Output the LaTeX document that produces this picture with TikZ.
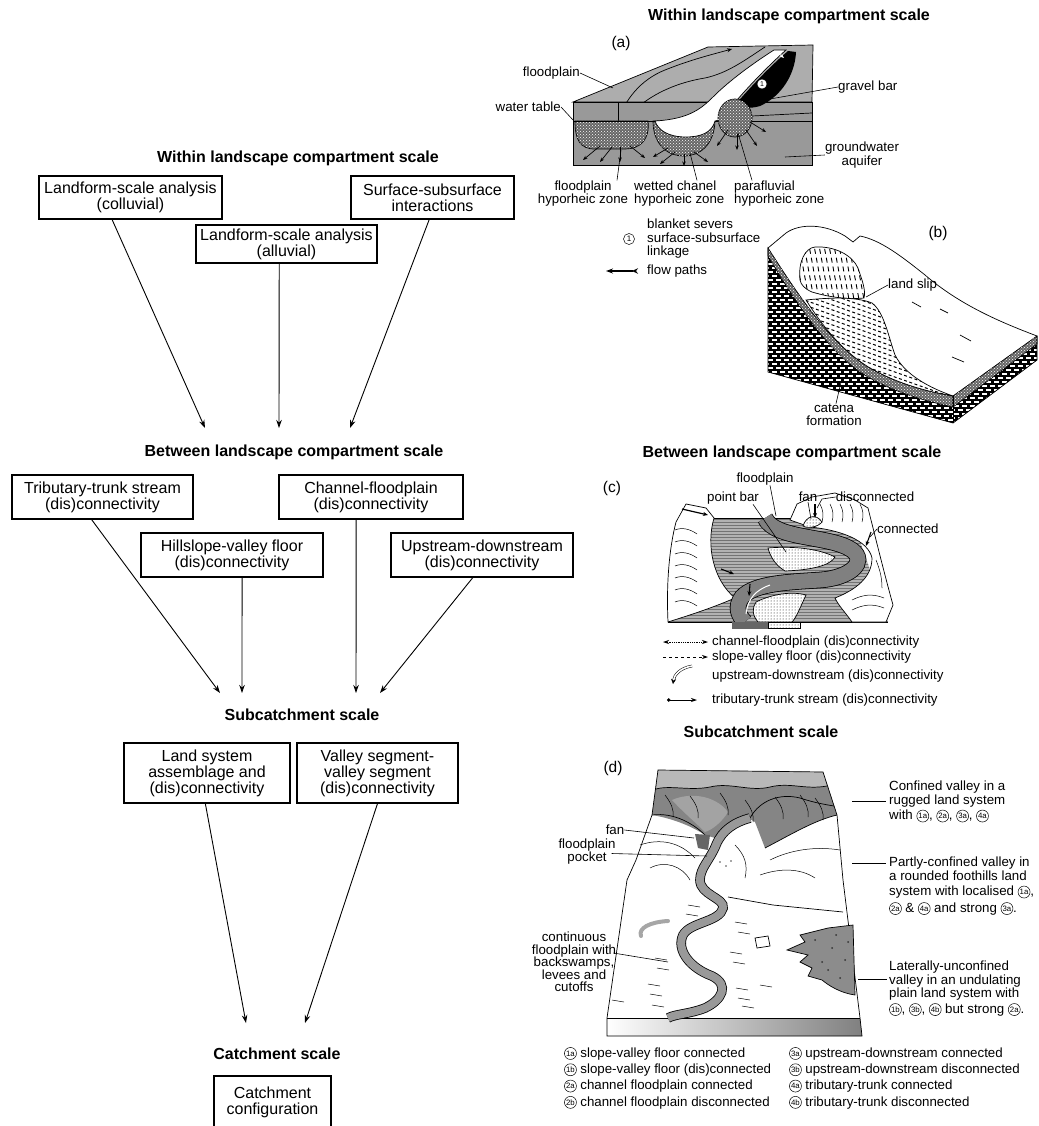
\documentclass[tikz,border=0pt]{standalone}
\usepackage{fontspec}
\setmainfont{Liberation Sans}
\usetikzlibrary{arrows.meta,patterns,calc}
\newcommand\circlab[1]{\raisebox{3.8pt}{\tikz[baseline=(cl.center)]{\node[circle,draw,line width=0.5pt,inner sep=0pt,minimum size=12pt,font=\fontsize{7.8}{7.8}\selectfont] (cl) {#1};}}}
\begin{document}
\begin{tikzpicture}[x=1pt,y=-1pt,
  box/.style={draw,line width=1.1pt,align=center,inner sep=0pt,font=\fontsize{16}{16}\selectfont},
  ttl/.style={font=\bfseries\fontsize{16}{16}\selectfont,inner sep=0pt},
  lbl/.style={font=\fontsize{13.3}{13.5}\selectfont,inner sep=0pt},
  plbl/.style={font=\fontsize{15.5}{16}\selectfont,inner sep=0pt},
  arr/.style={-{Stealth[length=8pt,width=5.5pt]},line width=0.9pt},
  lead/.style={line width=0.6pt},
  fa/.style={-{Stealth[length=4.5pt,width=3.5pt]},line width=0.7pt},
  ol/.style={line width=0.7pt},
  zone/.style={ol,fill=black!60,postaction={pattern=crosshatch dots,pattern color=white}},
  dotz/.style={ol,fill=white,postaction={pattern=dots}},
  thk/.style={line width=1.1pt,-{Stealth[length=5pt,width=4pt]}},
]
\useasboundingbox (0,0) rectangle (1038,1126);
\clip (0,0) rectangle (1038,1126);

%% ================= LEFT FLOW CHART =================
\node[ttl] (t1) at (298,158) {Within landscape compartment scale};
\node[box,minimum width=183pt,minimum height=43pt] (b1) at (130.5,197.5) {Landform-scale analysis\\(colluvial)};
\node[box,minimum width=163pt,minimum height=43pt] (b2) at (432.5,197.5) {Surface-subsurface\\interactions};
\node[box,minimum width=181pt,minimum height=38pt] (b3) at (286.5,244) {Landform-scale analysis\\(alluvial)};
\coordinate (e1) at (205,428);
\coordinate (e2) at (279,428);
\coordinate (e3) at (350,428);
\draw[arr] ($(b1.south west)!0.40!(b1.south east)$) -- (e1);
\draw[arr] ($(b3.south west)!0.46!(b3.south east)$) -- (e2);
\draw[arr] ($(b2.south west)!0.48!(b2.south east)$) -- (e3);

\node[ttl] (t2) at (294,452) {Between landscape compartment scale};
\node[box,minimum width=181pt,minimum height=44pt] (b4) at (102.5,497) {Tributary-trunk stream\\(dis)connectivity};
\node[box,minimum width=184pt,minimum height=44pt] (b5) at (371,497) {Channel-floodplain\\(dis)connectivity};
\node[box,minimum width=182pt,minimum height=44pt] (b6) at (232,555) {Hillslope-valley floor\\(dis)connectivity};
\node[box,minimum width=182pt,minimum height=44pt] (b7) at (482,555) {Upstream-downstream\\(dis)connectivity};
\coordinate (e4) at (220,693);
\coordinate (e5) at (242,693);
\coordinate (e6) at (356,693);
\coordinate (e7) at (380,693);
\draw[arr] ($(b4.south west)!0.44!(b4.south east)$) -- (e4);
\draw[arr] ($(b6.south west)!0.555!(b6.south east)$) -- (e5);
\draw[arr] ($(b5.south west)!0.42!(b5.south east)$) -- (e6);
\draw[arr] ($(b7.south west)!0.45!(b7.south east)$) -- (e7);

\node[ttl] (t3) at (302,715) {Subcatchment scale};
\node[box,minimum width=166pt,minimum height=60pt] (b8) at (207,773) {Land system\\assemblage and\\(dis)connectivity};
\node[box,minimum width=161pt,minimum height=60pt] (b9) at (377.5,773) {Valley segment-\\valley segment\\(dis)connectivity};
\coordinate (e8) at (246,1023);
\coordinate (e9) at (305,1023);
\draw[arr] ($(b8.south west)!0.49!(b8.south east)$) -- (e8);
\draw[arr] ($(b9.south west)!0.50!(b9.south east)$) -- (e9);

\node[ttl] (t4) at (277,1054) {Catchment scale};
\node[box,minimum width=117pt,minimum height=52pt] (b10) at (272.5,1102) {Catchment\\configuration};

%% ================= RIGHT TITLES =================
\node[ttl] (rt1) at (789,16) {Within landscape compartment scale};
\node[ttl] (rt2) at (792,453) {Between landscape compartment scale};
\node[ttl] (rt3) at (761,732) {Subcatchment scale};

%% ================= PANEL (a) =================
\node[plbl] (la) at (621,43) {(a)};
\draw[ol,fill=black!32] (573,102) -- (708,47) -- (813,45) -- (812,102) -- cycle;
\draw[ol,-{Stealth[length=5pt,width=4pt]}] (618,121) .. controls (625,100) and (640,80) .. (665,70) .. controls (690,60) and (710,55) .. (732,49);
\draw[ol] (637,108) .. controls (655,92) and (680,82) .. (705,78) .. controls (728,73) and (745,60) .. (765,47);
\draw[ol,fill=black!40] (573,102) rectangle (812,165);
\draw[ol] (618,121) -- (618,102);
\draw[zone] (575,121) -- (648,121) .. controls (650,140) and (640,149) .. (625,149) -- (595,149) .. controls (580,149) and (575,140) .. (575,121) -- cycle;
\draw[zone] (653,121) -- (715,121) .. controls (714,145) and (700,156) .. (684,156) .. controls (665,156) and (653,142) .. (653,121) -- cycle;
\draw[ol] (573,121) -- (812,121);
\draw[ol] (752,116) -- (812,113);
\draw[ol,fill=white] (655,121) .. controls (690,119) and (702,108) .. (714,96) .. controls (730,80) and (755,62) .. (774,50) -- (786,50) .. controls (768,66) and (745,90) .. (732,106) .. controls (725,116) and (720,121) .. (715,121) .. controls (712,133) and (700,137) .. (686,137) .. controls (668,137) and (658,130) .. (655,121) -- cycle;
\fill (735,105) .. controls (747,91) and (767,69) .. (788,51) -- (796,52) .. controls (795,74) and (782,96) .. (760,106) .. controls (750,109) and (741,108) .. (735,105) -- cycle;
\draw[zone] (735,118) ellipse [x radius=17pt,y radius=19pt];
\node[circle,fill=white,draw,inner sep=0pt,minimum size=10pt,font=\fontsize{7}{7}\selectfont] (a1c) at (762,84) {1};
\draw[fa,white] (778,53) -- (784,58);
% flow path arrows
\draw[fa] (600,146) -- (583,160);
\draw[fa] (612,147) -- (600,162);
\draw[fa] (620,147) -- (620,162);
\draw[fa] (630,146) -- (645,158);
\draw[fa] (668,148) -- (653,157);
\draw[fa] (675,152) -- (660,164);
\draw[fa] (684,154) -- (684,166);
\draw[fa] (694,152) -- (708,162);
\draw[fa] (728,130) -- (717,146);
\draw[fa] (737,134) -- (737,150);
\draw[fa] (746,130) -- (757,146);
\draw[fa] (750,122) -- (766,132);
% labels
\node[lbl,anchor=east] (lfp) at (580,73) {floodplain};
\draw[lead] (lfp.east) -- (613,88);
\node[lbl,anchor=east] (lwt) at (561,107) {water table};
\draw[lead] (lwt.east) -- (573,120);
\node[lbl,anchor=west] (lgb) at (838,87) {gravel bar};
\draw[lead] (lgb.west) -- (753,102);
\node[lbl,align=center] (lgw) at (862,155) {groundwater\\aquifer};
\draw[lead] (lgw.west) -- (785,157);
\node[lbl,align=center] (lfz) at (583,193.5) {floodplain\\hyporheic zone};
\draw[lead] ($(lfz.north)+(34,0)$) -- (621,150);
\node[lbl,align=left,anchor=west] (lwz) at (634,193.5) {wetted chanel\\hyporheic zone};
\draw[lead] ($(lwz.north west)+(63,0)$) -- (690,153);
\node[lbl,align=left,anchor=west] (lpz) at (734,193.5) {parafluvial\\hyporheic zone};
\draw[lead] ($(lpz.north west)+(18,0)$) -- (738,133);
% legend (a)
\node[circle,draw,line width=0.5pt,inner sep=0pt,minimum size=11pt,font=\fontsize{8}{8}\selectfont] (lg1) at (629,239) {1};
\node[lbl,align=left,anchor=west] (lg1t) at (647,239) {blanket severs\\surface-subsurface\\linkage};
\coordinate (fp1) at (606,271);
\coordinate (fp2) at (638,271);
\draw[line width=1.2pt,{Stealth[length=7pt,width=5pt]}-{Stealth[length=6pt,width=5.5pt,reversed]}] (fp1) -- (fp2);
\node[lbl,anchor=west] (lfpt) at (647,271) {flow paths};

%% ================= PANEL (b) =================
\node[plbl] (lb) at (938,233) {(b)};
\begin{scope}
\clip (768,248) .. controls (795,290) and (830,345) .. (870,368) .. controls (900,385) and (930,392) .. (953,396) -- (953,423) -- (768,372) -- cycle;
\fill[black] (760,240) rectangle (960,430);
\foreach \i in {0,...,48} {\pgfmathsetmacro\ph{mod(\i,2)*4}\draw[white,line width=1.7pt,dash pattern=on 5pt off 3pt,dash phase=\ph pt] (760,240+4*\i) -- (960,240+4*\i);}
\end{scope}
\begin{scope}
\clip (953,396) -- (1037,336) -- (1037,360) -- (953,423) -- cycle;
\fill[black] (950,330) rectangle (1040,430);
\foreach \i in {0,...,25} {\pgfmathsetmacro\ph{mod(\i,2)*4}\draw[white,line width=1.7pt,dash pattern=on 5pt off 3pt,dash phase=\ph pt] (950,330+4*\i) -- (1040,330+4*\i);}
\end{scope}
\draw[zone] (768,248) .. controls (795,290) and (830,345) .. (870,368) .. controls (900,385) and (930,392) .. (953,396) -- (953,407) .. controls (930,402) and (898,394) .. (868,377) .. controls (828,354) and (793,298) .. (768,256) -- cycle;
\draw[zone] (953,396) -- (1037,336) -- (1037,344) -- (953,407) -- cycle;
\draw[ol] (768,248) -- (768,372) -- (953,423) -- (1037,360) -- (1037,336);
\draw[ol] (953,396) -- (953,423);
\draw[ol] (768,248) -- (786,233) .. controls (800,223) and (825,224) .. (845,236) -- (853,242) -- (860,236) .. controls (880,240) and (900,255) .. (925,275) .. controls (960,305) and (1000,322) .. (1037,336);
% land slip scar
\draw[ol,fill=white] (800,280) .. controls (798,262) and (805,248) .. (815,247) .. controls (835,246) and (852,255) .. (858,268) .. controls (862,280) and (866,290) .. (864,298) .. controls (845,300) and (825,296) .. (812,292) .. controls (805,289) and (801,285) .. (800,280) -- cycle;
\begin{scope}
\clip (800,280) .. controls (798,262) and (805,248) .. (815,247) .. controls (835,246) and (852,255) .. (858,268) .. controls (862,280) and (866,290) .. (864,298) .. controls (845,300) and (825,296) .. (812,292) .. controls (805,289) and (801,285) .. (800,280) -- cycle;
\foreach \i in {0,...,14} {\draw[line width=0.9pt,dash pattern=on 5pt off 4pt] (788+5*\i,240) -- (800+5*\i,305);}
\end{scope}
% deposit
\draw[ol,fill=white] (806,300) .. controls (820,322) and (840,350) .. (870,368) .. controls (900,385) and (930,392) .. (953,396) .. controls (930,388) and (905,375) .. (895,355) .. controls (888,335) and (884,312) .. (872,303) .. controls (855,296) and (825,298) .. (806,300) -- cycle;
\begin{scope}
\clip (806,300) .. controls (820,322) and (840,350) .. (870,368) .. controls (900,385) and (930,392) .. (953,396) .. controls (930,388) and (905,375) .. (895,355) .. controls (888,335) and (884,312) .. (872,303) .. controls (855,296) and (825,298) .. (806,300) -- cycle;
\foreach \i in {0,...,32} {\draw[line width=1pt,dash pattern=on 3pt off 2.5pt] (790,250+5*\i) -- (960,310+5*\i);}
\end{scope}
\draw[ol] (912,302) -- (921,307);
\draw[ol] (940,309) -- (948,313);
\draw[ol] (960,335) -- (971,341);
\draw[ol] (952,357) -- (964,362);
\node[lbl,anchor=west] (lls) at (888,285) {land slip};
\draw[lead] (lls.west) -- (866,297);
\node[lbl,align=center] (lcf) at (834,415) {catena\\formation};
\draw[lead] ($(lcf.north)+(2,0)$) -- (841,382);

%% ================= PANEL (c) =================
\node[plbl] (lc) at (612,488) {(c)};
\fill[black!30] (668,622) -- (700,518) -- (852,518) -- (888,622) -- cycle;
\fill[pattern=horizontal lines,pattern color=black!55] (668,622) -- (700,518) -- (852,518) -- (888,622) -- cycle;
\draw[ol] (700,518) -- (852,518);
\draw[ol] (668,622) -- (888,622);
% left hill
\draw[ol,fill=white] (668,622) .. controls (666,580) and (670,545) .. (676,522) -- (686,504) -- (706,508) -- (714,518) .. controls (706,545) and (713,580) .. (735,598) .. controls (712,608) and (690,615) .. (668,622) -- cycle;
\foreach \y in {530,542,...,602} {\draw[line width=0.5pt] (675,\y) .. controls (682,\y-3) and (690,\y-1) .. (697,\y+4);}
\draw[line width=1.2pt,-{Stealth[length=5pt,width=4pt]}] (682,509) -- (708,515);
% right hill
\draw[ol,fill=white] (790,520) -- (797,504) -- (812,497) -- (835,493) -- (855,500) -- (868,508) .. controls (876,540) and (886,580) .. (893,605) -- (886,622) -- (852,622) .. controls (845,612) and (838,605) .. (835,598) .. controls (855,590) and (872,578) .. (872,558) .. controls (868,540) and (840,530) .. (810,527) -- cycle;
\foreach \x in {820,830,...,860} {\draw[line width=0.5pt] (\x,504) .. controls (\x+3,510) and (\x+4,515) .. (\x+2,522);}
\foreach \y in {595,605} {\draw[line width=0.5pt] (852,\y+5) .. controls (862,\y) and (872,\y-2) .. (884,\y+3);}
\draw[line width=0.5pt] (876,560) .. controls (880,570) and (882,578) .. (882,588);
% river
\draw[line width=0.8pt,double=black!50,double distance=15pt] (765,518) .. controls (775,540) and (830,535) .. (852,550) .. controls (868,562) and (850,578) .. (820,580) .. controls (790,582) and (755,583) .. (742,597) .. controls (735,607) and (738,615) .. (745,622);
\draw[dotz] (768,548) .. controls (790,546) and (818,548) .. (835,557) .. controls (830,566) and (810,570) .. (785,571) .. controls (775,565) and (770,556) .. (768,548) -- cycle;
\draw[dotz] (756,602) .. controls (772,594) and (792,591) .. (806,595) .. controls (800,608) and (796,618) .. (792,622) -- (758,622) .. controls (752,615) and (752,608) .. (756,602) -- cycle;
\draw[dotz] (803,526) .. controls (806,516) and (816,513) .. (822,522) .. controls (818,527) and (808,529) .. (803,526) -- cycle;
\draw[thk] (815,504) -- (815,518);
\draw[thk] (871,532) -- (866,546);
\draw[thk] (721,569) -- (734,574);
\draw[thk] (750,584) -- (749,596);
\draw[white,line width=1pt] (746,614) .. controls (748,598) and (756,590) .. (770,585);
\fill[black!60] (732,622) rectangle (768,629);
\draw[dotz] (768,622) rectangle (800,628);
\node[lbl] (lcfp) at (765,479) {floodplain};
\draw[lead] ($(lcfp.south)+(5,0)$) -- (776,516);
\node[lbl] (lcpb) at (733,498) {point bar};
\draw[lead] ($(lcpb.south east)+(-6,0)$) -- (786,552);
\node[lbl] (lcfan) at (808,497) {fan};
\draw[lead] (lcfan.south) -- (811,519);
\node[lbl] (lcdc) at (875,497) {disconnected};
\draw[lead] (lcdc.west) -- (822,499) -- (817,508);
\node[lbl,anchor=west] (lccn) at (877,529) {connected};
\draw[lead] (lccn.west) -- (870,537);
% legend (c)
\coordinate (s1a) at (663,642); \coordinate (s1b) at (708,642);
\coordinate (s2a) at (663,657); \coordinate (s2b) at (708,657);
\coordinate (s3a) at (692,666); \coordinate (s3b) at (673,684);
\coordinate (s4a) at (667,700); \coordinate (s4b) at (697,700);
\draw[line width=0.8pt,densely dotted,{Stealth[length=6pt,width=4pt]}-{Stealth[length=6pt,width=4pt]}] (s1a) -- (s1b);
\draw[line width=0.8pt,dashed,-{Stealth[length=6pt,width=4pt]}] (s2a) -- (s2b);
\draw[line width=0.5pt,double,double distance=1.6pt,-{Stealth[length=5pt,width=5pt]}] (s3a) .. controls (680,668) and (674,675) .. (s3b);
\draw[line width=0.8pt,{Circle[length=3.5pt]}-{Stealth[length=6pt,width=4pt]}] (s4a) -- (s4b);
\node[lbl,anchor=west] (lc1) at (712,642) {channel-floodplain (dis)connectivity};
\node[lbl,anchor=west] (lc2) at (712,657) {slope-valley floor (dis)connectivity};
\node[lbl,anchor=west] (lc3) at (712,676) {upstream-downstream (dis)connectivity};
\node[lbl,anchor=west] (lc4) at (712,700) {tributary-trunk stream (dis)connectivity};

%% ================= PANEL (d) =================
\node[plbl] (ld) at (613,768) {(d)};
\shade[left color=white,right color=black!50] (607,1018) -- (860,1018) -- (862,1036) -- (607,1036) -- cycle;
\fill[black!48] (658,770) -- (823,772) -- (837,815) .. controls (815,820) and (790,835) .. (765,848) -- (755,822) -- (748,818) .. controls (735,822) and (725,830) .. (715,838) -- (705,835) .. controls (690,825) and (670,818) .. (652,815) -- cycle;
\fill[black!36] (672,800) .. controls (690,792) and (715,795) .. (728,812) .. controls (722,822) and (712,830) .. (705,832) .. controls (695,822) and (683,812) .. (672,800) -- cycle;
\fill[black!28] (658,770) -- (823,772) -- (827,786) .. controls (805,790) and (790,782) .. (770,787) .. controls (750,792) and (730,782) .. (710,787) .. controls (690,791) and (670,785) .. (656,789) -- cycle;
\draw[ol] (656,789) .. controls (670,785) and (690,791) .. (710,787) .. controls (730,782) and (750,792) .. (770,787) .. controls (790,782) and (805,790) .. (827,786);
\draw[ol] (750,818) .. controls (760,800) and (780,793) .. (800,798) .. controls (815,803) and (828,805) .. (834,806);
\foreach \x/\y in {665/795,690/796,720/793,745/800,775/797,800/795,815/798} {\draw[line width=0.5pt] (\x,\y) .. controls (\x+6,\y+8) and (\x+9,\y+14) .. (\x+8,\y+22);}
\draw[ol] (652,815) .. controls (675,812) and (695,825) .. (705,835);
\draw[ol] (765,848) .. controls (790,835) and (815,820) .. (837,815);
\draw[ol] (658,770) -- (823,772) -- (837,815) -- (843,880) -- (860,1018) -- (862,1036) -- (607,1036) -- (607,1018) -- (627,880) -- (636,860) -- (652,815) -- cycle;
\draw[ol] (607,1018) -- (860,1018);
% hills
\draw[line width=0.5pt] (640,845) .. controls (660,838) and (680,842) .. (695,858);
\draw[line width=0.5pt] (650,868) .. controls (665,860) and (682,866) .. (690,880);
\draw[line width=0.5pt] (770,860) .. controls (790,850) and (815,846) .. (840,850);
\draw[line width=0.5pt] (760,875) .. controls (780,868) and (800,868) .. (815,878);
\draw[line width=0.5pt] (735,845) .. controls (745,855) and (748,865) .. (745,878);
\draw[ol] (728,897) -- (773,905) -- (843,912);
\foreach \x/\y in {688/905,686/914,735/922,738/932,655/958,657/968,730/952,733/962,736/988,738/998,648/984,650/994,742/1006,652/1005,612/1000,760/985} {\draw[line width=0.5pt] (\x,\y) -- ++(12,2);}
\draw[line width=4pt,black!35,line cap=round] (668,921) .. controls (650,922) and (638,928) .. (641,936);
\draw[ol,fill=black!45] (853,925) -- (855,995) .. controls (840,993) and (828,985) .. (822,980) -- (808,976) -- (812,968) -- (800,962) -- (808,955) -- (787,950) -- (805,942) -- (800,935) -- (828,928) -- cycle;
\foreach \p/\q in {815/940,832/948,845/960,822/962,840/978,836/935,848/942,828/970} {\fill[black!80] (\p,\q) circle (1pt);}
\fill[black!60] (695,834) -- (710,835) -- (708,850) -- (698,848) -- cycle;
\draw[line width=0.8pt,double=black!40,double distance=8pt] (750,818) .. controls (735,822) and (722,830) .. (716,845) .. controls (710,860) and (700,868) .. (700,880) .. controls (700,895) and (725,898) .. (723,908) .. controls (720,922) and (690,922) .. (683,935) .. controls (676,950) and (690,968) .. (712,976) .. controls (730,985) and (722,1000) .. (705,1008) .. controls (690,1014) and (675,1014) .. (668,1018);
\fill[black!70] (720,862) circle (0.8pt) (726,866) circle (0.8pt) (731,861) circle (0.8pt);
\draw[ol,fill=white] (755,938) -- (768,936) -- (770,946) -- (757,948) -- cycle;
% labels (d)
\node[lbl] (ldfan) at (615,830) {fan};
\draw[lead] (ldfan.east) -- (694,838);
\node[lbl,align=center] (ldfp) at (587,851.5) {floodplain\\pocket};
\draw[lead] ($(ldfp.east)+(-4,2)$) -- (707,856);
\node[lbl,align=center,font=\fontsize{13.3}{12.6}\selectfont] (ldcf) at (574,962) {continuous\\floodplain with\\backswamps,\\levees and\\cutoffs};
\draw[lead] ($(ldcf.east)+(-3,-9)$) -- (668,962);
\node[lbl,align=left,anchor=north west] (ldr1) at (889,781) {Confined valley in a\\rugged land system\\[2pt]with \circlab{1a}, \circlab{2a}, \circlab{3a}, \circlab{4a}};
\draw[lead] (852,801) -- ($(ldr1.north west)+(-3,20)$);
\node[lbl,align=left,anchor=north west] (ldr2) at (889,857) {Partly-confined valley in\\a rounded foothills land\\[2pt]system with localised \circlab{1a},\\[3pt]\circlab{2a} \& \circlab{4a} and strong \circlab{3a}.};
\draw[lead] (852,863) -- ($(ldr2.north west)+(-3,6)$);
\node[lbl,align=left,anchor=north west] (ldr3) at (889,961) {Laterally-unconfined\\valley in an undulating\\plain land system with\\[2pt]\circlab{1b}, \circlab{3b}, \circlab{4b} but strong \circlab{2a}.};
\draw[lead] (858,979) -- ($(ldr3.north west)+(-2,18)$);
\node[lbl,align=left,anchor=north west,font=\fontsize{13.3}{16.3}\selectfont] (ldl1) at (564,1047) {\circlab{1a} slope-valley floor connected\\\circlab{1b} slope-valley floor (dis)connected\\\circlab{2a} channel floodplain connected\\\circlab{2b} channel floodplain disconnected};
\node[lbl,align=left,anchor=north west,font=\fontsize{13.3}{16.3}\selectfont] (ldl2) at (789,1047) {\circlab{3a} upstream-downstream connected\\\circlab{3b} upstream-downstream disconnected\\\circlab{4a} tributary-trunk connected\\\circlab{4b} tributary-trunk disconnected};
\end{tikzpicture}
\end{document}
